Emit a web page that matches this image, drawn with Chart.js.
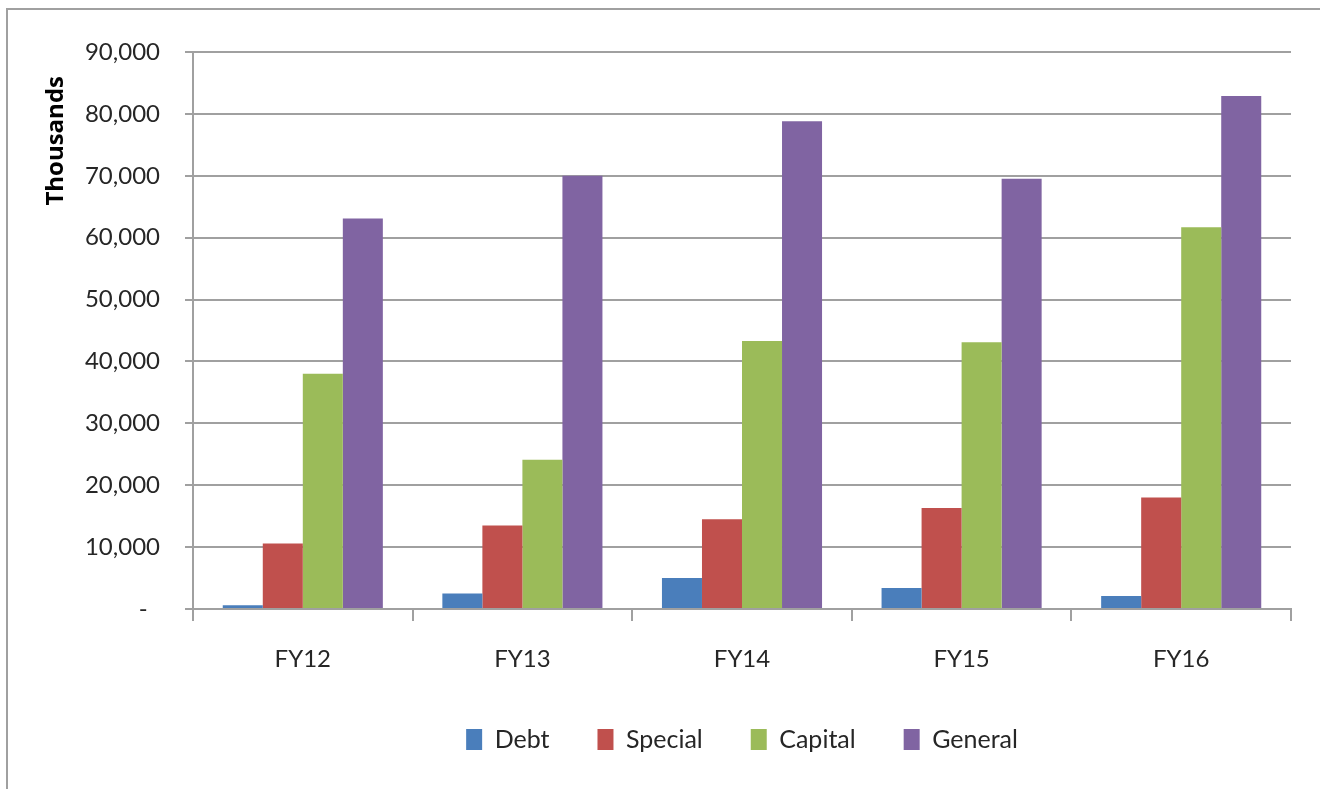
<!DOCTYPE html>
<html>
<head>
<meta charset="utf-8">
<script src="https://cdn.jsdelivr.net/npm/chart.js@4/dist/chart.umd.min.js"></script>
<style>
  html, body { margin: 0; padding: 0; background: #fff; }
  #wrap { width: 1320px; height: 789px; }
</style>
</head>
<body>
<div id="wrap"><canvas id="fundChart" width="1320" height="789"></canvas></div>
<script>
// values (thousands)
const categories = ['FY12', 'FY13', 'FY14', 'FY15', 'FY16'];
const debt    = [600, 2500, 5000, 3400, 2100];
const special = [10600, 13500, 14500, 16300, 18000];
const capital = [38000, 24100, 43300, 43100, 61700];
const general = [63100, 70000, 78800, 69500, 82900];
const yMin = 0, yMax = 90000, yStep = 10000;

const labelFont = "Lato, 'Open Sans', sans-serif";
const gridGray = '#a0a0a0';
const textColor = '#262626';

// outer frame of the chart object (top and left edges only are in view)
const framePlugin = {
    id: 'frame',
    beforeDraw(chart) {
        const ctx = chart.ctx;
        ctx.save();
        ctx.fillStyle = '#fff';
        ctx.fillRect(0, 0, chart.width, chart.height);
        ctx.strokeStyle = gridGray;
        ctx.lineWidth = 2;
        ctx.beginPath();
        ctx.moveTo(7, chart.height);
        ctx.lineTo(7, 9);
        ctx.lineTo(chart.width, 9);
        ctx.stroke();
        ctx.restore();
    }
};

const ctx = document.getElementById('fundChart').getContext('2d');
new Chart(ctx, {
    type: 'bar',
    data: {
        labels: categories,
        datasets: [
            { label: 'Debt',    data: debt,    backgroundColor: '#4a7ebb' },
            { label: 'Special', data: special, backgroundColor: '#c0504d' },
            { label: 'Capital', data: capital, backgroundColor: '#9bbb59' },
            { label: 'General', data: general, backgroundColor: '#8064a2' }
        ]
    },
    options: {
        responsive: false,
        animation: false,
        categoryPercentage: 0.729,
        barPercentage: 1.0,
        layout: {
            padding: { top: 52, left: 7, right: 29, bottom: 27 }
        },
        plugins: {
            legend: {
                position: 'bottom',
                fullSize: false,
                labels: {
                    boxWidth: 16,
                    boxHeight: 21,
                    padding: 48,
                    color: textColor,
                    font: { family: labelFont, size: 25 }
                }
            },
            tooltip: { enabled: false }
        },
        scales: {
            x: {
                afterFit(scale) {
                    scale.height = 70;
                },
                grid: {
                    drawOnChartArea: false,
                    color: gridGray,
                    lineWidth: 2,
                    tickLength: 12
                },
                border: { color: gridGray, width: 2 },
                ticks: {
                    color: textColor,
                    padding: 24,
                    font: { family: labelFont, size: 24 }
                }
            },
            y: {
                min: yMin,
                max: yMax,
                afterFit(scale) {
                    scale.width = 186;
                },
                title: {
                    display: true,
                    text: 'Thousands\u2003',
                    align: 'end',
                    color: '#000',
                    padding: { top: 35, bottom: 0 },
                    font: { family: "'Open Sans', sans-serif", size: 24, weight: 'bold' }
                },
                grid: {
                    color: gridGray,
                    lineWidth: 2,
                    tickLength: 8
                },
                border: { color: gridGray, width: 2 },
                ticks: {
                    stepSize: yStep,
                    color: textColor,
                    padding: 25,
                    font: { family: labelFont, size: 24 },
                    callback: function(value) {
                        return value === 0 ? '-  ' : value.toLocaleString('en-US');
                    }
                }
            }
        }
    },
    plugins: [framePlugin]
});
</script>
</body>
</html>
